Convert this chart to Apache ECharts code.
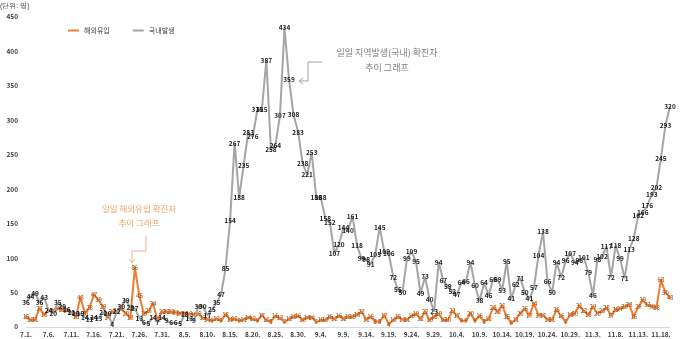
<!DOCTYPE html>
<html><head><meta charset="utf-8">
<script src="https://cdn.jsdelivr.net/npm/echarts@6/dist/echarts.min.js"></script>
<style>html,body{margin:0;padding:0;background:#fff}#c{width:680px;height:339px}</style>
</head><body><div id="c"></div>
<script>
// categories: daily dates 7.1. – 11.20.
const categories = [
"7.1.","7.2.","7.3.","7.4.","7.5.","7.6.","7.7.","7.8.","7.9.","7.10.","7.11.","7.12.","7.13.","7.14.","7.15.","7.16.","7.17.","7.18.","7.19.","7.20.","7.21.","7.22.","7.23.","7.24.","7.25.","7.26.","7.27.","7.28.","7.29.","7.30.","7.31.",
"8.1.","8.2.","8.3.","8.4.","8.5.","8.6.","8.7.","8.8.","8.9.","8.10.","8.11.","8.12.","8.13.","8.14.","8.15.","8.16.","8.17.","8.18.","8.19.","8.20.","8.21.","8.22.","8.23.","8.24.","8.25.","8.26.","8.27.","8.28.","8.29.","8.30.","8.31.",
"9.1.","9.2.","9.3.","9.4.","9.5.","9.6.","9.7.","9.8.","9.9.","9.10.","9.11.","9.12.","9.13.","9.14.","9.15.","9.16.","9.17.","9.18.","9.19.","9.20.","9.21.","9.22.","9.23.","9.24.","9.25.","9.26.","9.27.","9.28.","9.29.","9.30.",
"10.1.","10.2.","10.3.","10.4.","10.5.","10.6.","10.7.","10.8.","10.9.","10.10.","10.11.","10.12.","10.13.","10.14.","10.15.","10.16.","10.17.","10.18.","10.19.","10.20.","10.21.","10.22.","10.23.","10.24.","10.25.","10.26.","10.27.","10.28.","10.29.","10.30.","10.31.",
"11.1.","11.2.","11.3.","11.4.","11.5.","11.6.","11.7.","11.8.","11.9.","11.10.","11.11.","11.12.","11.13.","11.14.","11.15.","11.16.","11.17.","11.18.","11.19.","11.20."
];
// 국내발생 (domestic)
const domestic = [
36,44,49,36,43,24,20,35,29,26,21,20,19,14,11,14,13,21,20,4,22,30,39,28,27,13,6,5,14,7,14,
9,6,6,5,18,13,9,30,30,17,25,35,47,85,154,267,188,235,283,276,315,315,387,258,264,307,434,359,308,283,238,
221,253,188,188,158,152,107,120,144,140,161,118,99,98,91,105,145,109,106,72,55,50,99,109,95,49,73,40,23,94,
67,59,52,47,64,66,94,60,38,64,46,69,69,53,95,41,62,71,50,41,57,104,138,66,50,94,72,96,107,94,96,
101,79,46,98,102,117,72,118,99,71,113,128,162,166,176,193,202,245,293,320
];
// 해외유입 (imported)
const imported = [
15,10,11,27,18,24,24,27,25,24,21,15,43,20,28,47,39,29,14,22,23,26,20,13,86,45,19,23,34,11,22,
22,22,21,20,20,19,18,19,13,11,9,12,9,18,11,12,9,11,14,12,9,17,10,8,16,13,7,12,15,16,10,
14,14,7,10,10,15,12,16,12,15,15,18,22,11,15,8,8,17,4,10,15,11,11,16,19,12,22,10,15,19,
10,10,23,17,9,9,20,9,16,8,12,28,22,31,15,6,11,20,26,17,34,17,17,11,11,25,16,7,18,20,31,
23,18,29,20,23,28,17,25,27,29,33,15,29,39,32,30,28,68,50,43
];
const seriesNames = ["해외유입","국내발생"];
const yTicks = {min:0, max:450, interval:50};

const FONT = '"Noto Sans CJK KR","Noto Sans",sans-serif';
const chart = echarts.init(document.getElementById('c'), null, {renderer:'canvas'});
chart.setOption({
  animation:false,
  textStyle:{fontFamily:FONT},
  grid:{left:26, right:10, top:17, bottom:12},
  legend:{
    data:seriesNames, left:63, top:22, itemWidth:11, itemHeight:2, itemGap:23, icon:'rect',
    textStyle:{fontSize:7, color:'#404040', fontFamily:FONT}
  },
  xAxis:{
    type:'category', data:categories, boundaryGap:false,
    axisLine:{show:true, lineStyle:{color:'#D9D9D9', width:1}},
    axisTick:{show:false},
    axisLabel:{interval:4, fontSize:6.5, fontWeight:'bold', color:'#404040', margin:4, fontFamily:FONT},
    splitLine:{show:false}
  },
  yAxis:{
    type:'value', min:yTicks.min, max:yTicks.max, interval:yTicks.interval,
    axisLine:{show:false}, axisTick:{show:false}, splitLine:{show:false},
    axisLabel:{fontSize:6.5, fontWeight:'bold', color:'#404040', margin:8, fontFamily:FONT}
  },
  series:[
    {
      name:seriesNames[0], type:'line', data:imported,
      symbol:'circle', symbolSize:3, showAllSymbol:true,
      lineStyle:{color:'#ED7D31', width:2},
      itemStyle:{color:'#ED7D31'},
      label:{show:true, position:'inside', fontSize:6, color:'#A0490E', fontFamily:FONT},
      z:2
    },
    {
      name:seriesNames[1], type:'line', data:domestic,
      symbol:'circle', symbolSize:1, showAllSymbol:true,
      lineStyle:{color:'#A5A5A5', width:2},
      itemStyle:{color:'#A5A5A5'},
      label:{show:true, position:'inside', fontSize:6.5, fontWeight:'bold', color:'#1F1F1F', fontFamily:FONT},
      z:3
    }
  ],
  graphic:[
    {type:'text', left:0, top:3, style:{text:'(단위: 명)', fontSize:7, fill:'#404040', font:'7px '+FONT}},
    {type:'text', x:387, y:53, style:{text:'일일 지역발생(국내) 확진자', font:'9px '+FONT, fill:'#808080', align:'center', verticalAlign:'middle'}},
    {type:'text', x:387, y:68, style:{text:'추이 그래프', font:'9px '+FONT, fill:'#808080', align:'center', verticalAlign:'middle'}},
    {type:'polyline', shape:{points:[[322,62],[308,62],[308,81],[299,81]]}, style:{stroke:'#A5A5A5', lineWidth:1, fill:null}},
    {type:'polyline', shape:{points:[[303,78],[299,81],[303,84]]}, style:{stroke:'#A5A5A5', lineWidth:1, fill:null}},
    {type:'text', x:139, y:209, style:{text:'일일 해외유입 확진자', font:'8.5px '+FONT, fill:'#F4A460', align:'center', verticalAlign:'middle'}},
    {type:'text', x:139, y:223, style:{text:'추이 그래프', font:'8.5px '+FONT, fill:'#F4A460', align:'center', verticalAlign:'middle'}},
    {type:'polyline', shape:{points:[[146,236],[146,251],[132,251],[132,263]]}, style:{stroke:'#F4B183', lineWidth:1, fill:null}},
    {type:'polyline', shape:{points:[[129,259],[132,263],[135,259]]}, style:{stroke:'#F4B183', lineWidth:1, fill:null}}
  ]
});
</script></body></html>
